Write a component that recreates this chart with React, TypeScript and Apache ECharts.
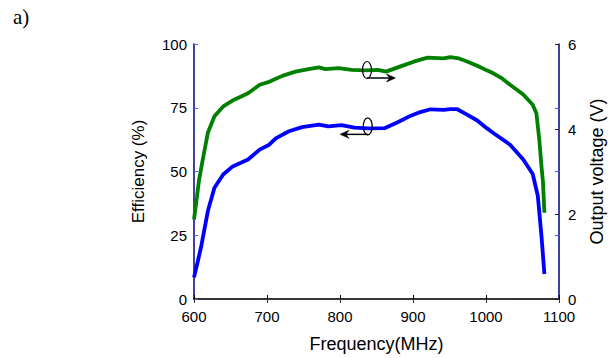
import React, { useEffect, useRef } from "react";
import * as echarts from "echarts";

// Output voltage curve (green, right axis, V)
const freqVoltage = [600, 604, 607, 612, 619, 628, 640, 655, 674, 690, 703, 721, 739, 757, 771, 780, 798, 816, 834, 852, 863, 884, 902, 920, 942, 951, 963, 974, 988, 1001, 1010, 1022, 1033, 1051, 1064, 1069, 1073, 1076, 1078, 1080];
const voltage = [1.87, 2.4, 2.81, 3.28, 3.91, 4.3, 4.53, 4.69, 4.84, 5.04, 5.11, 5.25, 5.35, 5.41, 5.45, 5.41, 5.43, 5.39, 5.38, 5.39, 5.35, 5.48, 5.59, 5.68, 5.66, 5.69, 5.66, 5.59, 5.49, 5.38, 5.31, 5.19, 5.04, 4.81, 4.57, 4.37, 3.75, 3.12, 2.76, 2.03];

// Efficiency curve (blue, left axis, %)
const freqEfficiency = [600, 605, 610, 619, 628, 640, 653, 674, 690, 703, 712, 730, 748, 771, 784, 802, 820, 838, 861, 879, 897, 910, 924, 942, 951, 960, 974, 988, 1001, 1010, 1033, 1051, 1064, 1071, 1076, 1080];
const efficiency = [8.5, 14.5, 20.8, 34.5, 43.6, 48.8, 52, 54.7, 58.6, 60.5, 63, 65.8, 67.4, 68.4, 67.7, 68.2, 67.2, 66.9, 67, 69.3, 71.9, 73.3, 74.4, 74.2, 74.5, 74.5, 72.3, 70, 67, 65.1, 60.5, 54.7, 49, 40.4, 24.7, 9.8];

// Axis ranges / ticks
const freqTicks = [600, 1100, 100];
const effTicks = [0, 100, 25];
const voltTicks = [0, 6, 2];

// Annotation anchors (data space, efficiency axis): [freq, value, arrowEndFreq]
const voltageNote = [837, 89.8, 876];
const efficiencyNote = [838, 67.7, 800];

const FONT = "Liberation Sans, Arial, Helvetica, sans-serif";
const NAVY = "#000080";

export default function App() {
  const ref = useRef<HTMLDivElement>(null);
  useEffect(() => {
    const chart = echarts.init(ref.current!, null, { renderer: "svg" });
    const plain = (v: number) => String(v);
    const label = { color: "#000", fontSize: 15, fontFamily: FONT, formatter: plain };
    const nameStyle = { color: "#000", fontSize: 18, fontFamily: FONT };
    chart.setOption({
      animation: false,
      backgroundColor: "#fff",
      grid: { left: 194, right: 51, top: 44, bottom: 58 },
      xAxis: [
        {
          type: "value",
          min: freqTicks[0],
          max: freqTicks[1],
          interval: freqTicks[2],
          position: "bottom",
          axisLine: { lineStyle: { color: "#000", width: 1.5 } },
          axisTick: { inside: true, length: 4, lineStyle: { color: "#000" } },
          axisLabel: { ...label, margin: 10 },
          splitLine: { show: false },
          name: "Frequency(MHz)",
          nameLocation: "middle",
          nameGap: 36,
          nameTextStyle: nameStyle,
        },
        {
          type: "value",
          min: freqTicks[0],
          max: freqTicks[1],
          interval: freqTicks[2],
          position: "top",
          axisLine: { lineStyle: { color: "#333", width: 1.5 } },
          axisTick: { inside: true, length: 4, lineStyle: { color: "#333" } },
          axisLabel: { show: false },
          splitLine: { show: false },
        },
      ],
      yAxis: [
        {
          type: "value",
          min: effTicks[0],
          max: effTicks[1],
          interval: effTicks[2],
          position: "left",
          axisLine: { show: true, lineStyle: { color: NAVY, width: 1.5 } },
          axisTick: { show: true, inside: true, length: 4, lineStyle: { color: "#5555ff" } },
          axisLabel: { ...label, margin: 7 },
          splitLine: { show: false },
          name: "Efficiency (%)",
          nameLocation: "middle",
          nameGap: 47,
          nameTextStyle: { ...nameStyle, fontSize: 17 },
        },
        {
          type: "value",
          min: effTicks[0],
          max: effTicks[1],
          interval: effTicks[2],
          position: "right",
          axisLine: { show: false },
          axisTick: { show: true, inside: true, length: 4, lineStyle: { color: "#5555ff" } },
          axisLabel: { show: false },
          splitLine: { show: false },
        },
        {
          type: "value",
          min: voltTicks[0],
          max: voltTicks[1],
          interval: voltTicks[2],
          position: "right",
          axisLine: { show: true, lineStyle: { color: NAVY, width: 1.5 } },
          axisTick: { show: true, inside: true, length: 4, lineStyle: { color: "#222" } },
          axisLabel: { ...label, margin: 9 },
          splitLine: { show: false },
          name: "Output voltage (V)",
          nameLocation: "middle",
          nameGap: 29,
          nameTextStyle: nameStyle,
        },
      ],
      series: [
        {
          type: "line",
          name: "Output voltage",
          xAxisIndex: 0,
          yAxisIndex: 2,
          data: freqVoltage.map((f, i) => [f, voltage[i]]),
          showSymbol: false,
          lineStyle: { color: "#008000", width: 3.8 },
          itemStyle: { color: "#008000" },
          z: 3,
        },
        {
          type: "line",
          name: "Efficiency",
          xAxisIndex: 0,
          yAxisIndex: 0,
          data: freqEfficiency.map((f, i) => [f, efficiency[i]]),
          showSymbol: false,
          lineStyle: { color: "#0000ff", width: 3.8 },
          itemStyle: { color: "#0000ff" },
          z: 3,
        },
      ],
    });

    const toPx = (x: number, y: number) =>
      chart.convertToPixel({ xAxisIndex: 0, yAxisIndex: 0 }, [x, y]) as number[];

    const note = (n: number[]) => {
      const [cx, cy] = toPx(n[0], n[1]);
      const [ex] = toPx(n[2], n[1]);
      const ay = cy + 8;
      const dir = ex > cx ? 1 : -1;
      return [
        {
          type: "ellipse",
          shape: { cx, cy, rx: 4.5, ry: 8.5 },
          style: { fill: "none", stroke: "#000", lineWidth: 1.2 },
          z: 10,
        },
        {
          type: "line",
          shape: { x1: cx, y1: ay, x2: ex - dir * 4, y2: ay },
          style: { stroke: "#000", lineWidth: 1.5 },
          z: 10,
        },
        {
          type: "polygon",
          shape: {
            points: [
              [ex, ay],
              [ex - dir * 9, ay - 4],
              [ex - dir * 6, ay],
              [ex - dir * 9, ay + 4],
            ],
          },
          style: { fill: "#000", stroke: "#000", lineWidth: 0.5 },
          z: 10,
        },
      ];
    };

    chart.setOption({
      graphic: [
        {
          type: "text",
          left: 13,
          top: 6,
          style: { text: "a)", fontSize: 21, fontFamily: "Liberation Serif, Times New Roman, serif", fill: "#000" },
        },
        ...note(voltageNote),
        ...note(efficiencyNote),
      ],
    });

    return () => chart.dispose();
  }, []);

  return (
    <div
      ref={ref}
      style={{ position: "fixed", left: 0, top: 0, width: 614, height: 358 }}
    />
  );
}
